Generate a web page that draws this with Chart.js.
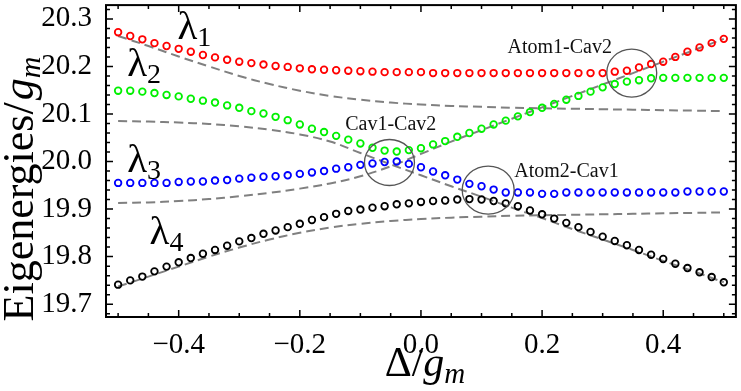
<!DOCTYPE html>
<html>
<head>
<meta charset="utf-8">
<script src="https://cdn.jsdelivr.net/npm/chart.js@4.4.1/dist/chart.umd.min.js"></script>
<style>
  html, body { margin: 0; padding: 0; background: #fff; }
  canvas { display: block; }
</style>
</head>
<body>
<canvas id="chart" width="741" height="391"></canvas>
<script>
// detuning values of the dotted eigenvalues
const delta = [-0.50, -0.48, -0.46, -0.44, -0.42, -0.40, -0.38, -0.36, -0.34, -0.32,
  -0.30, -0.28, -0.26, -0.24, -0.22, -0.20, -0.18, -0.16, -0.14, -0.12,
  -0.10, -0.08, -0.06, -0.04, -0.02, 0.00, 0.02, 0.04, 0.06, 0.08,
  0.10, 0.12, 0.14, 0.16, 0.18, 0.20, 0.22, 0.24, 0.26, 0.28,
  0.30, 0.32, 0.34, 0.36, 0.38, 0.40, 0.42, 0.44, 0.46, 0.48, 0.50];

const lambda1 = [20.272, 20.264, 20.257, 20.249, 20.243, 20.237, 20.231, 20.224, 20.219, 20.214,
  20.210, 20.207, 20.204, 20.201, 20.199, 20.196, 20.194, 20.193, 20.192, 20.191,
  20.190, 20.189, 20.188, 20.188, 20.188, 20.188, 20.186, 20.186, 20.186, 20.186,
  20.186, 20.186, 20.186, 20.186, 20.186, 20.186, 20.186, 20.186, 20.186, 20.186,
  20.186, 20.189, 20.191, 20.198, 20.205, 20.210, 20.220, 20.231, 20.240, 20.249, 20.258];

const lambda2 = [20.149, 20.149, 20.147, 20.144, 20.140, 20.137, 20.132, 20.128, 20.124, 20.118,
  20.113, 20.106, 20.101, 20.094, 20.087, 20.078, 20.069, 20.062, 20.054, 20.046,
  20.038, 20.029, 20.023, 20.021, 20.024, 20.028, 20.036, 20.043, 20.052, 20.060,
  20.069, 20.078, 20.086, 20.095, 20.104, 20.113, 20.121, 20.130, 20.138, 20.147,
  20.156, 20.163, 20.168, 20.171, 20.175, 20.176, 20.176, 20.176, 20.176, 20.176, 20.176];

const lambda3 = [19.955, 19.955, 19.955, 19.955, 19.955, 19.957, 19.958, 19.958, 19.960, 19.961,
  19.964, 19.966, 19.968, 19.969, 19.971, 19.974, 19.977, 19.980, 19.985, 19.988,
  19.993, 19.996, 19.999, 20.000, 19.995, 19.988, 19.979, 19.971, 19.962, 19.953,
  19.948, 19.941, 19.935, 19.935, 19.935, 19.932, 19.932, 19.935, 19.935, 19.935,
  19.935, 19.935, 19.935, 19.935, 19.935, 19.935, 19.935, 19.937, 19.937, 19.937, 19.937];

const lambda4 = [19.741, 19.750, 19.758, 19.769, 19.779, 19.788, 19.797, 19.806, 19.814, 19.823,
  19.832, 19.839, 19.848, 19.855, 19.862, 19.869, 19.877, 19.883, 19.890, 19.896,
  19.899, 19.903, 19.906, 19.910, 19.912, 19.915, 19.917, 19.918, 19.920, 19.921,
  19.920, 19.917, 19.912, 19.906, 19.897, 19.889, 19.880, 19.871, 19.862, 19.852,
  19.842, 19.833, 19.824, 19.814, 19.804, 19.795, 19.785, 19.776, 19.767, 19.757, 19.746];

// dashed curves, sampled more coarsely
const deltaDash = [-0.50, -0.45, -0.40, -0.35, -0.30, -0.25, -0.20, -0.15, -0.10, -0.05, 0.00,
  0.05, 0.10, 0.15, 0.20, 0.25, 0.30, 0.35, 0.40, 0.45, 0.50];
const dashA = [20.264, 20.243, 20.221, 20.200, 20.180, 20.163, 20.149, 20.138, 20.130, 20.124, 20.120,
  20.117, 20.115, 20.113, 20.112, 20.111, 20.110, 20.109, 20.108, 20.107, 20.106];
const dashB = [20.085, 20.084, 20.082, 20.079, 20.074, 20.067, 20.057, 20.042, 20.018, 19.994, 19.971,
  19.948, 19.926, 19.903, 19.881, 19.858, 19.836, 19.814, 19.791, 19.769, 19.746];
const dashC = [19.913, 19.914, 19.917, 19.921, 19.927, 19.934, 19.943, 19.954, 19.969, 19.990, 20.016,
  20.042, 20.066, 20.090, 20.114, 20.138, 20.162, 20.186, 20.210, 20.234, 20.258];
const dashD = [19.737, 19.758, 19.779, 19.800, 19.819, 19.836, 19.850, 19.861, 19.869, 19.875, 19.879,
  19.882, 19.884, 19.886, 19.887, 19.888, 19.889, 19.890, 19.891, 19.892, 19.893];

const xTicks = [-0.4, -0.2, 0, 0.2, 0.4];
const xMinor = [-0.5, -0.45, -0.35, -0.3, -0.25, -0.15, -0.1, -0.05, 0.05, 0.1, 0.15, 0.25, 0.3, 0.35, 0.45, 0.5];
const yTicks = [19.7, 19.8, 19.9, 20.0, 20.1, 20.2, 20.3];
const yMinor = [19.68, 19.72, 19.74, 19.76, 19.78, 19.82, 19.84, 19.86, 19.88, 19.92, 19.94, 19.96, 19.98,
  20.02, 20.04, 20.06, 20.08, 20.12, 20.14, 20.16, 20.18, 20.22, 20.24, 20.26, 20.28, 20.32];

const FONT = "'Liberation Serif', 'DejaVu Serif', serif";

function pts(xs, ys) { return xs.map((x, i) => ({ x: x, y: ys[i] })); }

function dots(data, color) {
  return {
    data: pts(delta, data), showLine: false, order: 1,
    pointRadius: 3.3, pointBorderWidth: 1.8, pointBorderColor: color,
    pointBackgroundColor: 'rgba(0,0,0,0)', pointHoverRadius: 3.3
  };
}
function dashed(data) {
  return {
    data: pts(deltaDash, data), showLine: true, order: 2, pointRadius: 0,
    borderColor: '#808080', borderWidth: 2, borderDash: [9, 5], tension: 0.4, fill: false
  };
}

// draw a run of text pieces with different fonts
function richText(ctx, parts, x, y, align) {
  let w = 0;
  parts.forEach(p => { ctx.font = p.font; w += ctx.measureText(p.t).width + (p.gap || 0); });
  let cx = align === 'center' ? x - w / 2 : x;
  parts.forEach(p => {
    ctx.font = p.font;
    ctx.fillText(p.t, cx, y + (p.dy || 0));
    cx += ctx.measureText(p.t).width + (p.gap || 0);
  });
}

const labels = [
  { sym: '1', x: -0.402, y: 20.258 },
  { sym: '2', x: -0.485, y: 20.180 },
  { sym: '3', x: -0.485, y: 19.978 },
  { sym: '4', x: -0.448, y: 19.827 }
];
const notes = [
  { t: 'Atom1-Cav2', x: 0.143, y: 20.229 },
  { t: 'Cav1-Cav2', x: -0.125, y: 20.067 },
  { t: 'Atom2-Cav1', x: 0.154, y: 19.967 }
];
const rings = [
  { x: 0.348, y: 20.186, rx: 25, ry: 24 },
  { x: -0.052, y: 19.998, rx: 25, ry: 23 },
  { x: 0.111, y: 19.940, rx: 26, ry: 24 }
];

const decor = {
  id: 'decor',
  afterDatasetsDraw(chart) {
    const ctx = chart.ctx, a = chart.chartArea;
    const xs = chart.scales.x, ys = chart.scales.y;
    ctx.save();
    // circles around the anticrossings
    ctx.strokeStyle = '#555';
    ctx.lineWidth = 1.3;
    rings.forEach(r => {
      ctx.beginPath();
      ctx.ellipse(xs.getPixelForValue(r.x), ys.getPixelForValue(r.y), r.rx, r.ry, 0, 0, Math.PI * 2);
      ctx.stroke();
    });
    // frame with inward ticks on all sides
    ctx.strokeStyle = '#000';
    ctx.lineWidth = 2;
    ctx.strokeRect(a.left, a.top, a.right - a.left, a.bottom - a.top);
    ctx.lineWidth = 1.5;
    ctx.beginPath();
    const tx = (v, len) => {
      const p = xs.getPixelForValue(v);
      ctx.moveTo(p, a.bottom); ctx.lineTo(p, a.bottom - len);
      ctx.moveTo(p, a.top); ctx.lineTo(p, a.top + len);
    };
    const ty = (v, len) => {
      const p = ys.getPixelForValue(v);
      ctx.moveTo(a.left, p); ctx.lineTo(a.left + len, p);
      ctx.moveTo(a.right, p); ctx.lineTo(a.right - len, p);
    };
    xTicks.forEach(v => tx(v, 7));
    xMinor.forEach(v => tx(v, 4));
    yTicks.forEach(v => ty(v, 7));
    yMinor.forEach(v => ty(v, 4));
    ctx.stroke();

    // lambda labels and notes
    ctx.fillStyle = '#000';
    ctx.textBaseline = 'alphabetic';
    ctx.textAlign = 'left';
    labels.forEach(l => {
      richText(ctx, [
        { t: 'λ', font: '41px ' + FONT },
        { t: l.sym, font: '28px ' + FONT, dy: 7 }
      ], xs.getPixelForValue(l.x), ys.getPixelForValue(l.y), 'left');
    });
    ctx.fillStyle = '#111';
    ctx.font = '20px ' + FONT;
    notes.forEach(n => ctx.fillText(n.t, xs.getPixelForValue(n.x), ys.getPixelForValue(n.y)));

    // axis titles
    ctx.fillStyle = '#000';
    richText(ctx, [
      { t: 'Δ', font: '42px ' + FONT },
      { t: '/', font: '42px ' + FONT },
      { t: 'g', font: 'italic 42px ' + FONT },
      { t: 'm', font: 'italic 29px ' + FONT, dy: 7 }
    ], (a.left + a.right) / 2 + 4, 376, 'center');
    ctx.translate(33, (a.top + a.bottom) / 2 + 28);
    ctx.rotate(-Math.PI / 2);
    richText(ctx, [
      { t: 'Eigenergies', font: '44px ' + FONT },
      { t: '/', font: '44px ' + FONT, gap: 2 },
      { t: 'g', font: 'italic 44px ' + FONT },
      { t: 'm', font: 'italic 30px ' + FONT, dy: 7 }
    ], 0, 0, 'center');
    ctx.restore();
  }
};

const fmt = v => (v < 0 ? '\u2212' : '') + Math.abs(v).toFixed(1);

new Chart(document.getElementById('chart'), {
  type: 'scatter',
  data: {
    datasets: [
      dots(lambda1, '#ff0000'),
      dots(lambda2, '#00f000'),
      dots(lambda3, '#0000ff'),
      dots(lambda4, '#000000'),
      dashed(dashA), dashed(dashB), dashed(dashC), dashed(dashD)
    ]
  },
  options: {
    responsive: false,
    animation: false,
    devicePixelRatio: 1,
    layout: { padding: { top: 2, right: 2, left: 0, bottom: 0 } },
    plugins: { legend: { display: false }, tooltip: { enabled: false } },
    scales: {
      x: {
        type: 'linear', min: -0.52, max: 0.52,
        grid: { display: false }, border: { display: false },
        afterBuildTicks: s => { s.ticks = xTicks.map(v => ({ value: v })); },
        afterFit: s => { s.height = 74; s.paddingLeft = 0; s.paddingRight = 0; },
        ticks: { font: { family: FONT, size: 29 }, color: '#000', padding: 3, maxRotation: 0,
          callback: v => fmt(v) }
      },
      y: {
        type: 'linear', min: 19.673, max: 20.329,
        grid: { display: false }, border: { display: false },
        afterBuildTicks: s => { s.ticks = yTicks.map(v => ({ value: v })); },
        afterFit: s => { s.width = 106; s.paddingTop = 0; s.paddingBottom = 0; },
        ticks: { font: { family: FONT, size: 29 }, color: '#000', padding: 6,
          callback: v => fmt(v) }
      }
    }
  },
  plugins: [decor]
});
</script>
</body>
</html>
